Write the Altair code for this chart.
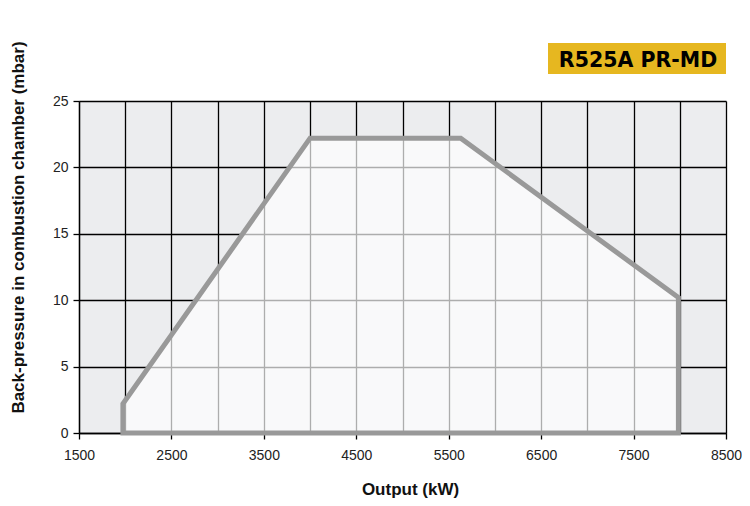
import altair as alt
import pandas as pd

# Operating envelope outline (Output kW, back-pressure mbar), clockwise, closed
env_x = [1975, 1975, 4000, 5630, 7985, 7985, 1975]
env_y = [0.0, 2.2, 22.2, 22.2, 10.2, 0.0, 0.0]

x_grid = [1500, 2000, 2500, 3000, 3500, 4000, 4500, 5000, 5500, 6000, 6500, 7000, 7500, 8000, 8500]
y_grid = [0, 5, 10, 15, 20, 25]

title_text = "R525A PR-MD"
x_title = "Output (kW)"
y_title = "Back-pressure in combustion chamber (mbar)"

env = pd.DataFrame({"x": env_x, "y": env_y, "i": list(range(len(env_x)))})

FONT = "Liberation Sans"

xscale = alt.Scale(domain=[1500, 8500], nice=False, zero=False)
yscale = alt.Scale(domain=[0, 25], nice=False)

xaxis = alt.Axis(
    values=x_grid, grid=True, format="d", title=x_title, labelFlush=False,
    labelExpr="datum.value % 1000 == 500 ? datum.label : ''",
    tickOpacity={"condition": {"test": "datum.value % 1000 == 500", "value": 1}, "value": 0},
    titleX=331, titleY=56, titleBaseline="middle", titleAlign="center",
)
yaxis = alt.Axis(
    values=y_grid, grid=True, format="d", title=y_title, labelFlush=False,
    titleX=-61, titleY=126, titleAngle=270, titleAlign="center", titleBaseline="middle",
)

area = alt.Chart(env).transform_filter("datum.y > 0").mark_area(
    color="white", opacity=0.68
).encode(
    x=alt.X("x:Q", scale=xscale, axis=xaxis),
    y=alt.Y("y:Q", scale=yscale, axis=yaxis),
    y2=alt.datum(0),
)

outline = alt.Chart(env).mark_line(
    color="#999999", strokeWidth=5, strokeJoin="miter", strokeCap="square"
).encode(
    x=alt.X("x:Q", scale=xscale),
    y=alt.Y("y:Q", scale=yscale),
    order="i:Q",
)

box_df = pd.DataFrame({"t": [title_text]})
box = alt.Chart(box_df).mark_rect(color="#e6b720").encode(
    x=alt.value(469), x2=alt.value(647), y=alt.value(-58), y2=alt.value(-27)
)
box_text = alt.Chart(box_df).mark_text(
    font="DejaVu Sans", fontWeight="bold", fontSize=20.5, color="black",
    align="center", baseline="alphabetic"
).encode(
    x=alt.value(559), y=alt.value(-34), text="t:N"
)

chart = alt.layer(area, outline, box, box_text).properties(
    width=647, height=332,
    autosize=alt.AutoSizeParams(type="none"),
    padding={"left": 71, "top": 93, "right": 16, "bottom": 75},
    background="white",
).configure_view(
    fill="#ecedef", stroke=None
).configure_axis(
    gridColor="black", gridWidth=1.3, gridOpacity=1,
    domainColor="black", domainWidth=1.3,
    tickColor="black", tickWidth=1.3, tickSize=6,
    labelFont=FONT, labelFontSize=14, labelColor="#222222",
    titleFont=FONT, titleFontSize=17, titleFontWeight="bold", titleColor="#111111",
).configure_axisX(
    labelPadding=9,
).configure_axisY(
    labelPadding=5,
)

chart.save("out.html", embed_options={"renderer": "svg", "actions": False})
